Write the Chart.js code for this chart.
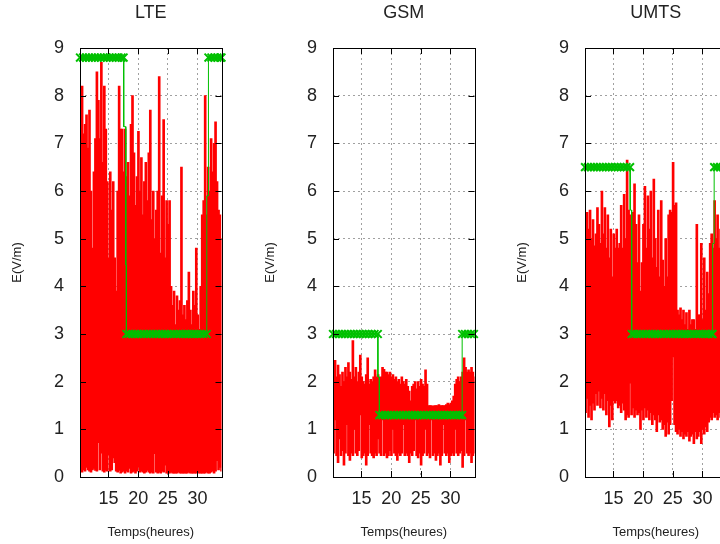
<!DOCTYPE html>
<html>
<head>
<meta charset="utf-8">
<script src="https://cdn.jsdelivr.net/npm/chart.js@4.4.1/dist/chart.umd.min.js"></script>
<style>
  html, body { margin: 0; padding: 0; background: #fff; overflow: hidden; }
  canvas { position: absolute; top: 0; }
</style>
</head>
<body>
<canvas id="lte" width="240" height="544" style="left:0px"></canvas>
<canvas id="gsm" width="240" height="544" style="left:253px"></canvas>
<canvas id="umts" width="240" height="544" style="left:505px"></canvas>
<script>
// Sample times (heures), shared by the three panels
const hours = [10.3, 10.55, 10.8, 11.05, 11.3, 11.55, 11.8, 12.05, 12.3, 12.55, 12.8, 13.05,
  13.3, 13.55, 13.8, 14.05, 14.3, 14.55, 14.8, 15.05, 15.3, 15.55, 15.8, 16.05,
  16.3, 16.55, 16.8, 17.05, 17.3, 17.55, 17.8, 18.05, 18.3, 18.55, 18.8, 19.05,
  19.3, 19.55, 19.8, 20.05, 20.3, 20.55, 20.8, 21.05, 21.3, 21.55, 21.8, 22.05,
  22.3, 22.55, 22.8, 23.05, 23.3, 23.55, 23.8, 24.05, 24.3, 24.55, 24.8, 25.05,
  25.3, 25.55, 25.8, 26.05, 26.3, 26.55, 26.8, 27.05, 27.3, 27.55, 27.8, 28.05,
  28.3, 28.55, 28.8, 29.05, 29.3, 29.55, 29.8, 30.05, 30.3, 30.55, 30.8, 31.05,
  31.3, 31.55, 31.8, 32.05, 32.3, 32.55, 32.8, 33.05, 33.3, 33.55, 33.8, 34.05];

// LTE measured field, max / min per sample (V/m)
const lteMax = [6.9, 8.2, 7.2, 7.4, 7.6, 6.9, 7.7, 6.0, 4.8, 6.4, 7.1, 8.5,
  7.9, 7.1, 8.7, 6.6, 8.2, 7.3, 6.2, 4.6, 6.4, 5.6, 6.2, 4.6,
  3.9, 6.0, 8.2, 7.3, 7.3, 6.4, 7.3, 6.3, 6.6, 5.9, 7.4, 8.0,
  6.8, 5.7, 6.3, 7.25, 6.0, 6.7, 5.5, 6.2, 6.6, 5.8, 6.8, 7.7,
  5.4, 6.0, 5.0, 5.6, 6.0, 8.4, 4.7, 5.9, 7.5, 4.6, 5.8, 5.3,
  5.8, 4.0, 3.6, 3.9, 3.2, 3.8, 3.5, 3.7, 6.5, 3.4, 3.6, 3.3,
  3.7, 4.3, 3.5, 3.2, 3.9, 3.6, 4.8, 3.4, 3.1, 4.0, 5.5, 5.8,
  8.0, 5.5, 6.5, 6.0, 7.1, 6.4, 7.0, 7.45, 6.2, 5.6, 5.5, 5.0];
const lteMin = [0.12, 0.1, 0.15, 0.12, 0.2, 0.15, 0.12, 0.1, 0.15, 0.18, 0.14, 0.12,
  0.72, 0.15, 0.5, 0.12, 0.1, 0.14, 0.12, 0.46, 0.12, 0.15, 0.4, 0.3,
  0.12, 0.1, 0.14, 0.08, 0.1, 0.12, 0.08, 0.12, 0.1, 0.18, 0.08, 0.1,
  0.12, 0.08, 0.12, 0.2, 0.1, 0.12, 0.1, 0.08, 0.1, 0.14, 0.1, 0.08,
  0.1, 0.08, 0.49, 0.1, 0.08, 0.1, 0.08, 0.12, 0.1, 0.25, 0.08, 0.08,
  0.08, 0.1, 0.08, 0.08, 0.08, 0.08, 0.1, 0.08, 0.08, 0.08, 0.08, 0.08,
  0.08, 0.1, 0.08, 0.08, 0.08, 0.08, 0.08, 0.1, 0.08, 0.08, 0.08, 0.08,
  0.08, 0.1, 0.08, 0.08, 0.1, 0.12, 0.08, 0.12, 0.34, 0.15, 0.2, 0.12];

// GSM
const gsmMax = [2.2, 2.45, 2.1, 2.35, 2.15, 1.9, 2.2, 2.0, 2.3, 2.1, 2.4, 2.2,
  2.05, 2.86, 2.1, 2.3, 2.0, 2.2, 2.56, 2.1, 2.0, 1.95, 2.15, 2.5,
  1.95, 2.05, 2.0, 2.1, 2.25, 2.1, 2.15, 1.9, 2.1, 2.3, 2.26, 2.2,
  2.2, 2.15, 2.2, 2.1, 2.15, 2.05, 2.1, 2.0, 2.05, 1.95, 2.1, 2.0,
  1.95, 2.05, 1.9, 1.8, 1.6, 1.9, 1.95, 2.0, 1.85, 2.0, 1.9, 2.05,
  1.95, 1.9, 2.25, 1.95, 1.5, 1.5, 1.5, 1.48, 1.5, 1.5, 1.5, 1.52,
  1.5, 1.5, 1.5, 1.5, 1.52, 1.55, 1.52, 1.55, 1.6, 1.7, 1.95, 2.05,
  2.1, 2.0, 2.1, 2.2, 2.5, 2.3, 2.2, 2.25, 2.2, 2.3, 2.2, 2.1];
const gsmMin = [0.5, 1.2, 0.45, 0.3, 0.8, 0.45, 0.55, 0.25, 0.5, 1.1, 0.45, 0.35,
  0.5, 0.45, 1.0, 0.5, 0.45, 0.55, 1.3, 0.4, 0.45, 0.5, 0.25, 0.45,
  1.1, 0.5, 0.45, 0.4, 0.5, 0.45, 0.8, 0.5, 0.45, 1.2, 0.45, 0.5,
  0.4, 0.45, 0.55, 0.45, 1.0, 0.5, 0.45, 0.35, 0.5, 0.45, 0.5, 1.1,
  0.45, 0.5, 0.45, 0.3, 0.5, 0.45, 0.55, 1.2, 0.45, 0.4, 0.5, 0.25,
  0.45, 0.5, 1.0, 0.45, 0.5, 0.4, 1.2, 0.45, 0.5, 0.35, 0.45, 0.5,
  0.25, 0.45, 1.1, 0.5, 0.45, 0.5, 0.3, 0.45, 0.5, 0.45, 1.0, 0.5,
  0.45, 0.5, 0.55, 0.2, 0.45, 1.2, 0.5, 0.45, 0.5, 0.3, 0.45, 0.5];

// UMTS
const umtsMax = [4.6, 5.55, 5.2, 5.6, 5.0, 5.4, 4.85, 5.1, 5.65, 5.3, 4.9, 6.0,
  5.1, 5.65, 4.8, 5.5, 4.6, 5.2, 4.2, 5.1, 4.8, 5.2, 4.8, 4.9,
  5.7, 4.8, 5.93, 5.0, 6.65, 5.6, 5.5, 5.0, 5.55, 6.15, 5.3, 4.5,
  5.5, 3.9, 4.5, 5.3, 6.1, 4.8, 5.9, 5.2, 6.0, 4.6, 6.25, 5.0,
  4.4, 5.6, 4.2, 5.8, 4.55, 4.0, 5.0, 4.2, 5.5, 5.6, 5.55, 6.6,
  5.7, 5.75, 3.5, 3.4, 3.55, 3.3, 3.5, 3.2, 3.45, 3.1, 3.5, 3.2,
  3.3, 3.3, 3.1, 5.3, 3.4, 3.4, 4.9, 3.3, 4.6, 3.5, 4.3, 3.85,
  4.9, 5.1, 4.8, 5.8, 5.0, 5.5, 4.8, 5.2, 5.0, 5.4, 4.9, 5.1];
const umtsMin = [1.35, 1.65, 1.25, 1.5, 1.2, 1.55, 1.4, 1.75, 1.5, 1.8, 1.45, 1.65,
  1.4, 1.75, 1.3, 1.6, 1.05, 1.5, 1.2, 1.6, 1.55, 1.6, 1.45, 1.5,
  1.35, 1.55, 1.4, 1.2, 1.3, 1.25, 1.97, 1.3, 1.45, 1.25, 1.4, 1.3,
  1.35, 1.0, 1.4, 1.2, 1.45, 1.25, 1.4, 1.2, 1.35, 1.1, 1.3, 1.2,
  0.95, 1.3, 1.15, 1.2, 1.0, 1.1, 0.85, 1.15, 0.9, 1.1, 1.6, 2.52,
  1.1, 0.95, 0.9, 1.0, 0.85, 0.95, 0.8, 0.9, 0.85, 0.95, 0.75, 0.85,
  0.9, 0.7, 0.95, 0.8, 0.85, 0.95, 0.7, 1.0, 0.9, 1.05, 0.95, 1.15,
  1.25, 1.2, 1.35, 1.25, 1.3, 1.2, 1.35, 1.25, 1.3, 1.2, 1.35, 1.3];

// Green threshold curves (time, value)
const lteLimT = [10.2, 10.7, 11.2, 11.7, 12.2, 12.7, 13.2, 13.7, 14.2, 14.7, 15.2, 15.7, 16.2, 16.7, 17.2, 17.55,
  17.57, 17.9, 17.92, 18.0,
  18.02, 18.5, 19.0, 19.5, 20.0, 20.5, 21.0, 21.5, 22.0, 22.5, 23.0, 23.5, 24.0, 24.5,
  25.0, 25.5, 26.0, 26.5, 27.0, 27.5, 28.0, 28.5, 29.0, 29.5, 30.0, 30.5, 31.0, 31.55,
  31.57, 31.83,
  31.85, 32.35, 32.85, 33.35, 33.85, 34.05];
const lteLimV = [8.8, 8.8, 8.8, 8.8, 8.8, 8.8, 8.8, 8.8, 8.8, 8.8, 8.8, 8.8, 8.8, 8.8, 8.8, 8.8,
  7.35, 7.35, 4.45, 4.45,
  3.0, 3.0, 3.0, 3.0, 3.0, 3.0, 3.0, 3.0, 3.0, 3.0, 3.0, 3.0, 3.0, 3.0,
  3.0, 3.0, 3.0, 3.0, 3.0, 3.0, 3.0, 3.0, 3.0, 3.0, 3.0, 3.0, 3.0, 3.0,
  5.9, 5.9,
  8.8, 8.8, 8.8, 8.8, 8.8, 8.8];

const gsmLimT = [10.2, 10.7, 11.2, 11.7, 12.2, 12.7, 13.2, 13.7, 14.2, 14.7, 15.2, 15.7, 16.2, 16.7, 17.2, 17.75,
  17.77, 18.0,
  18.02, 18.5, 19.0, 19.5, 20.0, 20.5, 21.0, 21.5, 22.0, 22.5, 23.0, 23.5, 24.0, 24.5,
  25.0, 25.5, 26.0, 26.5, 27.0, 27.5, 28.0, 28.5, 29.0, 29.5, 30.0, 30.5, 31.0, 31.5, 31.95,
  31.97, 32.45, 32.95, 33.45, 33.95];
const gsmLimV = [3.0, 3.0, 3.0, 3.0, 3.0, 3.0, 3.0, 3.0, 3.0, 3.0, 3.0, 3.0, 3.0, 3.0, 3.0, 3.0,
  2.1, 2.1,
  1.3, 1.3, 1.3, 1.3, 1.3, 1.3, 1.3, 1.3, 1.3, 1.3, 1.3, 1.3, 1.3, 1.3,
  1.3, 1.3, 1.3, 1.3, 1.3, 1.3, 1.3, 1.3, 1.3, 1.3, 1.3, 1.3, 1.3, 1.3, 1.3,
  3.0, 3.0, 3.0, 3.0, 3.0];

const umtsLimT = [10.2, 10.7, 11.2, 11.7, 12.2, 12.7, 13.2, 13.7, 14.2, 14.7, 15.2, 15.7, 16.2, 16.7, 17.2, 17.8,
  17.82, 18.05,
  18.07, 18.5, 19.0, 19.5, 20.0, 20.5, 21.0, 21.5, 22.0, 22.5, 23.0, 23.5, 24.0, 24.5,
  25.0, 25.5, 26.0, 26.5, 27.0, 27.5, 28.0, 28.5, 29.0, 29.5, 30.0, 30.5, 31.0, 31.5, 31.7,
  31.72, 31.95,
  31.97, 32.45, 32.95, 33.45, 33.95];
const umtsLimV = [6.5, 6.5, 6.5, 6.5, 6.5, 6.5, 6.5, 6.5, 6.5, 6.5, 6.5, 6.5, 6.5, 6.5, 6.5, 6.5,
  5.6, 5.6,
  3.0, 3.0, 3.0, 3.0, 3.0, 3.0, 3.0, 3.0, 3.0, 3.0, 3.0, 3.0, 3.0, 3.0,
  3.0, 3.0, 3.0, 3.0, 3.0, 3.0, 3.0, 3.0, 3.0, 3.0, 3.0, 3.0, 3.0, 3.0, 3.0,
  4.9, 4.9,
  6.5, 6.5, 6.5, 6.5, 6.5];

const FONT = 'Liberation Sans, Arial, sans-serif';
const TEXT = '#222';

// gnuplot-like box with inward tick marks on all four sides
const framePlugin = {
  id: 'frame',
  afterDatasetsDraw(chart) {
    const { ctx, chartArea: a, scales: { x, y } } = chart;
    ctx.save();
    ctx.strokeStyle = '#000';
    ctx.lineWidth = 1;
    ctx.beginPath();
    x.ticks.forEach(t => {
      const px = Math.round(x.getPixelForValue(t.value)) + 0.5;
      ctx.moveTo(px, a.bottom); ctx.lineTo(px, a.bottom - 6);
      ctx.moveTo(px, a.top); ctx.lineTo(px, a.top + 6);
    });
    y.ticks.forEach(t => {
      const py = Math.round(y.getPixelForValue(t.value)) + 0.5;
      ctx.moveTo(a.left, py); ctx.lineTo(a.left + 6, py);
      ctx.moveTo(a.right, py); ctx.lineTo(a.right - 6, py);
    });
    ctx.stroke();
    ctx.strokeRect(Math.round(a.left) + 0.5, Math.round(a.top) + 0.5,
      Math.round(a.right - a.left), Math.round(a.bottom - a.top));
    ctx.restore();
  }
};

function makePanel(id, title, maxs, mins, limT, limV, levels) {
  const bars = hours.map((h, i) => ({ x: h, y: [mins[i], maxs[i]] }));
  const lim = limT.map((t, i) => ({ x: t, y: limV[i] }));
  return new Chart(document.getElementById(id), {
    type: 'line',
    data: {
      datasets: [{
        type: 'line',
        data: lim,
        borderColor: '#00c000',
        borderWidth: 1,
        pointStyle: 'crossRot',
        pointRadius: c => levels.includes(c.raw.y) ? 5.5 : 0,
        pointBorderColor: '#00c000',
        pointBorderWidth: 2,
        tension: 0,
        clip: false,
        order: 1
      }, {
        type: 'bar',
        data: bars,
        backgroundColor: '#ff0000',
        borderWidth: 0,
        barThickness: 2,
        order: 2
      }]
    },
    options: {
      responsive: false,
      animation: false,
      devicePixelRatio: 1,
      events: [],
      layout: { padding: { left: 0, right: 18.5, top: 0, bottom: 0 } },
      plugins: {
        legend: { display: false },
        tooltip: { enabled: false },
        title: {
          display: true, text: title, fullSize: false, color: TEXT,
          font: { family: FONT, size: 18, weight: 'normal' },
          padding: { top: 2, bottom: 24.4 }
        }
      },
      scales: {
        x: {
          type: 'linear', min: 10.2, max: 34.05, offset: false,
          ticks: { stepSize: 5, includeBounds: false, maxRotation: 0, color: TEXT,
                   font: { family: FONT, size: 18 }, padding: 11 },
          grid: { color: '#a0a0a0', drawTicks: false, offset: false },
          border: { display: false, dash: [2, 3] },
          title: { display: true, text: 'Temps(heures)', color: TEXT,
                   font: { family: FONT, size: 13 }, padding: { top: 0, bottom: 4 } },
          afterFit: s => { s.height = 67; }
        },
        y: {
          min: 0, max: 9,
          ticks: { stepSize: 1, color: TEXT, font: { family: FONT, size: 18 }, padding: 16 },
          grid: { color: '#a0a0a0', drawTicks: false },
          border: { display: false, dash: [2, 3] },
          title: { display: true, text: 'E(V/m)', color: TEXT,
                   font: { family: FONT, size: 13 }, padding: { top: 10, bottom: 0 } },
          afterFit: s => { s.width = 80; }
        }
      }
    },
    plugins: [framePlugin]
  });
}

makePanel('lte', 'LTE', lteMax, lteMin, lteLimT, lteLimV, [8.8, 3.0]);
makePanel('gsm', 'GSM', gsmMax, gsmMin, gsmLimT, gsmLimV, [3.0, 1.3]);
makePanel('umts', 'UMTS', umtsMax, umtsMin, umtsLimT, umtsLimV, [6.5, 3.0]);
</script>
</body>
</html>
